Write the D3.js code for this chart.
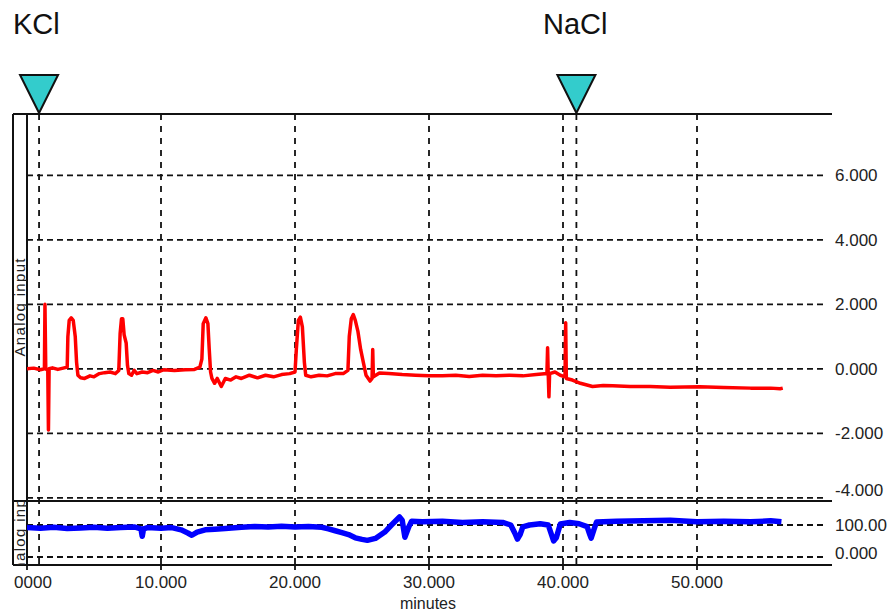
<!DOCTYPE html>
<html>
<head>
<meta charset="utf-8">
<script src="https://cdn.jsdelivr.net/npm/d3@7"></script>
<style>
  body { margin: 0; background: #fff; }
  svg { display: block; font-family: "Liberation Sans", Arial, sans-serif; }
</style>
</head>
<body>
<div id="chart"></div>
<script>
// time (minutes) and signal of the upper channel
var redMinutes = [0, 0.5, 1.0, 1.3, 1.34, 1.4, 1.55, 1.6, 1.65, 1.9, 2.3, 2.7, 3.0, 3.05, 3.15, 3.3, 3.45, 3.6, 3.7, 3.8,
  4.0, 4.3, 4.7, 5.0, 5.4, 5.8, 6.2, 6.6, 6.85, 6.95, 7.05, 7.15, 7.25, 7.4, 7.5, 7.6, 7.8, 8.0, 8.2, 8.6,
  9.0, 9.4, 9.8, 10.2, 11.0, 11.8, 12.5, 12.9, 13.05, 13.15, 13.35, 13.5, 13.6, 13.7, 13.8, 14.0, 14.2, 14.5, 14.8, 15.2,
  15.6, 16.0, 16.6, 17.2, 17.8, 18.4, 19.0, 19.6, 20.0, 20.1, 20.25, 20.4, 20.55, 20.7, 20.8, 21.2, 21.8, 22.4, 23.0, 23.6,
  23.95, 24.05, 24.2, 24.35, 24.5, 24.7, 24.9, 25.1, 25.3, 25.6, 25.75, 25.8, 25.85, 26.3, 27.0, 28.0, 29.0, 30.0, 31.0, 32.0,
  33.0, 34.0, 35.0, 36.0, 37.0, 38.0, 38.8, 38.85, 38.9, 38.95, 39.0, 39.4, 39.8, 40.15, 40.2, 40.25, 40.7, 41.3, 42.2, 43.0,
  43.7, 45.0, 46.5, 48.0, 50.2, 52.0, 54.0, 55.5, 56.2, 56.4];
var redValues = [0.0, 0.02, -0.03, 0.0, 2.0, 0.0, -0.05, -1.9, 0.0, 0.03, -0.02, 0.02, 0.05, 1.0, 1.5, 1.58, 1.5, 1.0, 0.2, -0.2,
  -0.28, -0.3, -0.22, -0.25, -0.15, -0.12, -0.1, -0.15, -0.05, 1.1, 1.55, 1.55, 1.05, 0.8, 0.1, -0.15, -0.2, -0.05, -0.15, -0.1,
  -0.12, -0.05, -0.1, -0.03, -0.05, -0.03, -0.02, 0.05, 0.3, 1.4, 1.58, 1.4, 0.6, -0.1, -0.3, -0.45, -0.3, -0.55, -0.3, -0.35,
  -0.25, -0.3, -0.2, -0.28, -0.2, -0.25, -0.18, -0.15, -0.1, 0.6, 1.5, 1.6, 1.3, 0.2, -0.2, -0.25, -0.2, -0.22, -0.15, -0.15,
  -0.05, 1.0, 1.55, 1.68, 1.5, 1.15, 0.6, 0.2, -0.2, -0.38, -0.3, 0.6, -0.25, -0.13, -0.15, -0.18, -0.2, -0.22, -0.22, -0.2,
  -0.24, -0.2, -0.22, -0.2, -0.22, -0.18, -0.15, 0.65, -0.2, -0.87, -0.15, -0.1, -0.2, -0.25, 1.43, -0.3, -0.35, -0.45, -0.55, -0.52,
  -0.53, -0.55, -0.55, -0.57, -0.56, -0.58, -0.6, -0.6, -0.62, -0.6];

// time (minutes) and signal of the lower channel
var blueMinutes = [0, 1.0, 2.0, 3.0, 4.0, 5.0, 6.0, 7.0, 8.0, 8.5, 8.6, 8.7, 9.0, 10.0, 10.8, 11.5, 12.0, 12.3, 12.7, 13.3,
  14.0, 14.8, 16.0, 17.0, 18.0, 19.0, 20.0, 21.0, 22.0, 22.5, 23.0, 23.5, 24.0, 24.5, 25.0, 25.4, 26.0, 26.7, 27.2, 27.8,
  28.0, 28.2, 28.5, 28.7, 29.5, 31.0, 32.5, 34.0, 35.5, 36.1, 36.4, 36.6, 36.8, 37.0, 37.5, 38.3, 38.9, 39.1, 39.3, 39.5,
  39.8, 40.5, 41.2, 41.8, 42.0, 42.1, 42.3, 42.5, 44.0, 46.0, 48.0, 50.0, 52.0, 54.0, 55.5, 56.3];
var blueValues = [92, 90, 93, 89, 91, 93, 90, 92, 94, 88, 65, 88, 92, 90, 92, 85, 75, 68, 78, 85,
  87, 89, 93, 95, 94, 96, 94, 95, 93, 88, 82, 76, 70, 60, 55, 52, 58, 78, 100, 125,
  115, 62, 95, 112, 110, 112, 108, 110, 108, 100, 75, 56, 70, 94, 100, 104, 100, 75, 50, 60,
  103, 108, 104, 95, 70, 59, 85, 109, 112, 113, 115, 110, 112, 110, 113, 110];

var xTicks = [0, 10, 20, 30, 40, 50];
var xTickLabels = ["0000", "10.000", "20.000", "30.000", "40.000", "50.000"];
var topTicks = [6, 4, 2, 0, -2, -4];
var topTickLabels = ["6.000", "4.000", "2.000", "0.000", "-2.000", "-4.000"];
var bottomTicks = [100, 0];
var bottomTickLabels = ["100.00", "0.000"];

var markerNames = ["KCl", "NaCl"];
var markerMinutes = [0.9, 41.0];

var width = 890, height = 611;
var left = 27, outerLeft = 13, right = 832;
var topY = 114, splitY = 501, bottomY = 565;

var svg = d3.select("#chart").append("svg")
  .attr("width", width)
  .attr("height", height);

var x = d3.scaleLinear().domain([0, 60]).range([left, 831]);
var yTop = d3.scaleLinear().domain([-4.1, 7.9]).range([splitY, topY]);
var yBot = d3.scaleLinear().domain([-25, 175]).range([bottomY, splitY]);

var defs = svg.append("defs");
defs.append("clipPath").attr("id", "clipTop").append("rect")
  .attr("x", left).attr("y", topY).attr("width", right - left).attr("height", splitY - topY);
defs.append("clipPath").attr("id", "clipBot").append("rect")
  .attr("x", left).attr("y", splitY).attr("width", right - left).attr("height", bottomY - splitY);
defs.append("clipPath").attr("id", "clipLabTop").append("rect")
  .attr("x", outerLeft).attr("y", topY).attr("width", left - outerLeft).attr("height", splitY - topY);
defs.append("clipPath").attr("id", "clipLabBot").append("rect")
  .attr("x", outerLeft).attr("y", splitY).attr("width", left - outerLeft).attr("height", bottomY - splitY);

// horizontal grid
var grid = svg.append("g").attr("stroke", "#111").attr("stroke-width", 1.8).attr("fill", "none");
grid.selectAll(".hg-top").data(topTicks).enter().append("line")
  .attr("x1", left).attr("x2", 827)
  .attr("y1", function(d) { return yTop(d); })
  .attr("y2", function(d) { return yTop(d); })
  .attr("stroke-dasharray", "6,4");
grid.selectAll(".hg-bot").data(bottomTicks).enter().append("line")
  .attr("x1", left).attr("x2", 827)
  .attr("y1", function(d) { return yBot(d); })
  .attr("y2", function(d) { return yBot(d); })
  .attr("stroke-dasharray", "6,4");

// vertical grid + marker lines
grid.selectAll(".vg").data(xTicks.slice(1).concat(markerMinutes)).enter().append("line")
  .attr("x1", function(d) { return x(d); })
  .attr("x2", function(d) { return x(d); })
  .attr("y1", topY).attr("y2", bottomY)
  .attr("stroke-dasharray", "6,6");
grid.selectAll(".tk").data(xTicks).enter().append("line")
  .attr("x1", function(d) { return x(d); })
  .attr("x2", function(d) { return x(d); })
  .attr("y1", bottomY).attr("y2", bottomY + 5);

// frame lines
var frame = svg.append("g").attr("stroke", "#111").attr("stroke-width", 2);
frame.append("line").attr("x1", outerLeft).attr("x2", right).attr("y1", topY).attr("y2", topY);
frame.append("line").attr("x1", outerLeft).attr("x2", right).attr("y1", splitY).attr("y2", splitY);
frame.append("line").attr("x1", outerLeft).attr("x2", right).attr("y1", bottomY).attr("y2", bottomY);
frame.append("line").attr("x1", outerLeft).attr("x2", outerLeft).attr("y1", topY).attr("y2", bottomY);
frame.append("line").attr("x1", left).attr("x2", left).attr("y1", topY).attr("y2", bottomY);

// traces
var redData = redMinutes.map(function(m, i) { return [m, redValues[i]]; });
var blueData = blueMinutes.map(function(m, i) { return [m, blueValues[i]]; });

var redLine = d3.line()
  .x(function(d) { return x(d[0]); })
  .y(function(d) { return yTop(d[1]); });
var blueLine = d3.line()
  .x(function(d) { return x(d[0]); })
  .y(function(d) { return yBot(d[1]); });

svg.append("path").datum(redData)
  .attr("clip-path", "url(#clipTop)")
  .attr("fill", "none").attr("stroke", "#ff0000")
  .attr("stroke-width", 3.5).attr("stroke-linejoin", "round")
  .attr("d", redLine);

svg.append("path").datum(blueData)
  .attr("clip-path", "url(#clipBot)")
  .attr("fill", "none").attr("stroke", "#0000ff")
  .attr("stroke-width", 5.5).attr("stroke-linejoin", "round")
  .attr("d", blueLine);

// right tick labels
var lab = svg.append("g").attr("font-size", 17).attr("fill", "#222");
lab.selectAll(".tl-top").data(topTicks).enter().append("text")
  .attr("x", 835)
  .attr("y", function(d) { return Math.min(yTop(d), splitY - 11); })
  .attr("dy", "0.35em")
  .text(function(d, i) { return topTickLabels[i]; });
lab.selectAll(".tl-bot").data(bottomTicks).enter().append("text")
  .attr("x", 835)
  .attr("y", function(d) { return Math.min(yBot(d), bottomY - 12); })
  .attr("dy", "0.35em")
  .text(function(d, i) { return bottomTickLabels[i]; });

// bottom tick labels
lab.selectAll(".xl").data(xTicks).enter().append("text")
  .attr("x", function(d) { return d === 0 ? x(d) + 6 : x(d); })
  .attr("y", 588)
  .attr("text-anchor", "middle")
  .text(function(d, i) { return xTickLabels[i]; });

svg.append("text")
  .attr("x", 428).attr("y", 609)
  .attr("text-anchor", "middle")
  .attr("font-size", 16).attr("fill", "#222")
  .text("minutes");

// clipped y-axis titles in the left strip
[["clipLabTop", (topY + splitY) / 2], ["clipLabBot", (splitY + bottomY) / 2]].forEach(function(p) {
  svg.append("g").attr("clip-path", "url(#" + p[0] + ")")
    .append("text")
    .attr("transform", "translate(25," + p[1] + ") rotate(-90)")
    .attr("text-anchor", "middle")
    .attr("font-size", 15).attr("fill", "#222")
    .attr("textLength", 98).attr("lengthAdjust", "spacing")
    .text("Analog input");
});

// markers
var mk = svg.selectAll(".marker").data(markerMinutes).enter().append("g")
  .attr("transform", function(d) { return "translate(" + x(d) + ",0)"; });
mk.append("path")
  .attr("d", "M-19,75 L19,75 L0,113 Z")
  .attr("fill", "#33cccc").attr("stroke", "#111").attr("stroke-width", 2)
  .attr("stroke-linejoin", "miter");

svg.append("text").attr("x", 13).attr("y", 34)
  .attr("font-size", 29).attr("fill", "#111").text(markerNames[0]);
svg.append("text").attr("x", 543).attr("y", 34)
  .attr("font-size", 29).attr("fill", "#111").text(markerNames[1]);
</script>
</body>
</html>
